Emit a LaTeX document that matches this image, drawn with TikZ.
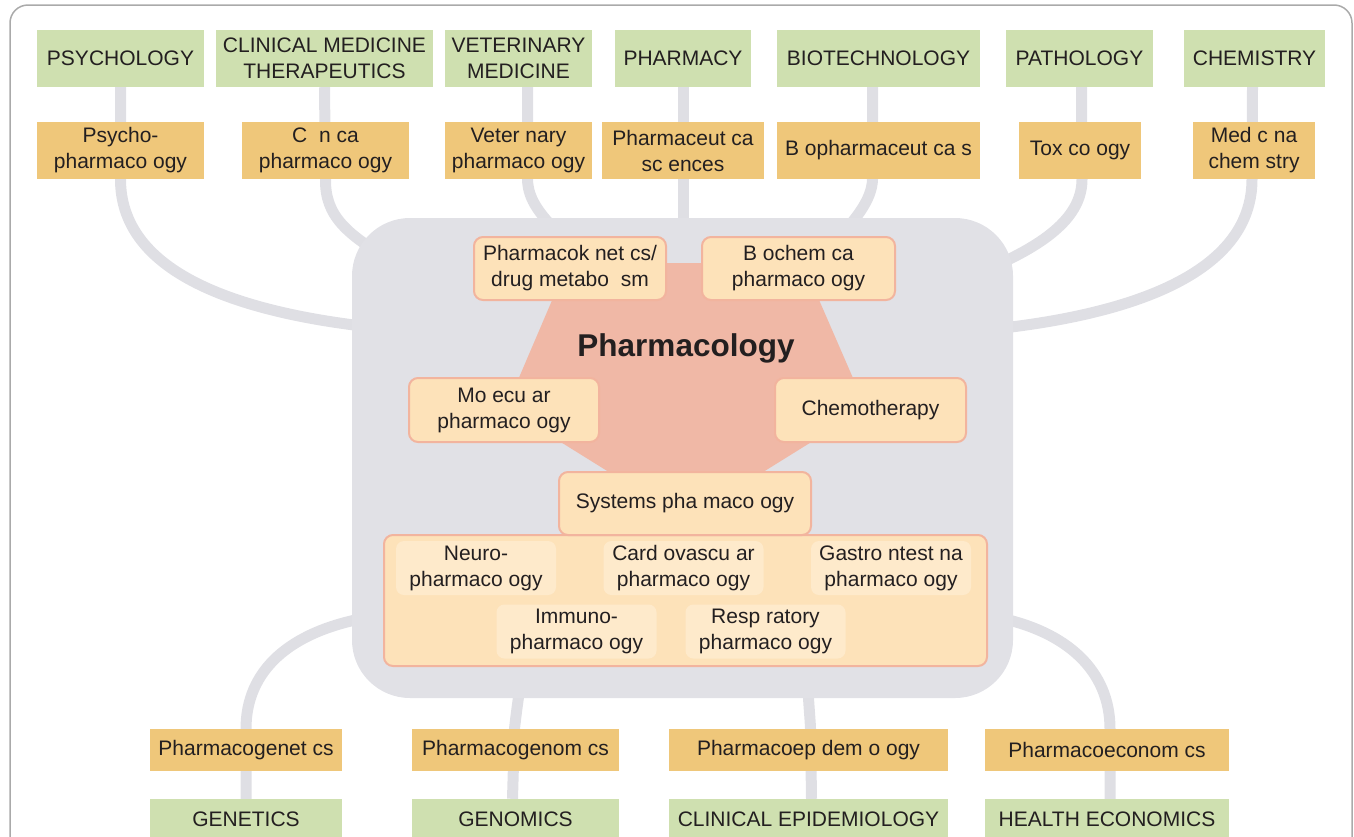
\documentclass[tikz,border=0pt]{standalone}
\usepackage{fontspec}
\setmainfont{Liberation Sans}
\usetikzlibrary{backgrounds,calc}
\definecolor{grn}{HTML}{CFE0B0}
\definecolor{org}{HTML}{EFC77A}
\definecolor{coreg}{HTML}{E1E1E6}
\definecolor{lgray}{HTML}{DFDFE4}
\definecolor{pent}{HTML}{F0B8A6}
\definecolor{pbox}{HTML}{FDE2B9}
\definecolor{pbord}{HTML}{F2B49E}
\definecolor{subf}{HTML}{FEEACB}
\definecolor{txt}{HTML}{231F20}
\definecolor{frm}{HTML}{AAAAAA}
\begin{document}
\begin{tikzpicture}[x=1pt,y=-1pt,
  every node/.style={font=\fontsize{21}{26}\selectfont, text=txt, align=center, inner sep=0pt},
  gbox/.style={fill=grn},
  obox/.style={fill=org},
  ibox/.style={fill=pbox, draw=pbord, line width=2pt, rounded corners=9pt},
  sbox/.style={fill=subf, rounded corners=8pt, minimum width=160pt, minimum height=54pt},
  link/.style={draw=lgray, line width=11pt},
  frame/.style={draw=frm, line width=1.5pt, rounded corners=18pt}]
\useasboundingbox (0,0) rectangle (1354,836);
\clip (0,0) rectangle (1354,836);
\draw[frame] (10,5) rectangle (1352,900);

% central field
\node[fill=coreg, rounded corners=58pt, minimum width=661pt, minimum height=480pt] (core) at (682.5,458) {};
\fill[pent] (568,263) -- (803,263) -- (866,408) -- (686,520) -- (506,408) -- cycle;
\node[font=\fontsize{31.5}{36}\selectfont\bfseries] (pharm) at (686,348) {Pharmacology};

% top row: disciplines
\node[gbox, minimum width=167pt, minimum height=57pt] (psyg) at (120.5,58.5) {PSYCHOLOGY};
\node[gbox, minimum width=217pt, minimum height=57pt] (clig) at (324.5,58.5) {CLINICAL MEDICINE\\THERAPEUTICS};
\node[gbox, minimum width=147pt, minimum height=57pt] (vetg) at (518.5,58.5) {VETERINARY\\MEDICINE};
\node[gbox, minimum width=136pt, minimum height=57pt] (phag) at (683,58.5) {PHARMACY};
\node[gbox, minimum width=203pt, minimum height=57pt] (biog) at (878.5,58.5) {BIOTECHNOLOGY};
\node[gbox, minimum width=147pt, minimum height=57pt] (patg) at (1079.5,58.5) {PATHOLOGY};
\node[gbox, minimum width=141pt, minimum height=57pt] (chmg) at (1254.5,58.5) {CHEMISTRY};

% top row: pharmacology branches
\node[obox, minimum width=167pt, minimum height=57pt] (psyo) at (120.5,150.5) {Psycho-\\pharmaco ogy};
\node[obox, minimum width=167pt, minimum height=57pt] (clio) at (325.5,150.5) {C\ \ n ca\\pharmaco ogy};
\node[obox, minimum width=147pt, minimum height=57pt] (veto) at (518.5,150.5) {Veter nary\\pharmaco ogy};
\node[obox, minimum width=162pt, minimum height=57pt] (phao) at (683,150.5) {Pharmaceut ca\\sc ences};
\node[obox, minimum width=203pt, minimum height=57pt] (bioo) at (878.5,150.5) {B opharmaceut ca s};
\node[obox, minimum width=122pt, minimum height=57pt] (pato) at (1080,150.5) {Tox co ogy};
\node[obox, minimum width=122pt, minimum height=57pt] (chmo) at (1254,150.5) {Med c na\\chem stry};

% inner boxes
\node[ibox, minimum width=192pt, minimum height=63pt] (pk) at (570,268.5) {Pharmacok net cs/\\drug metabo\ \ sm};
\node[ibox, minimum width=193pt, minimum height=63pt] (bc) at (798.5,268.5) {B ochem ca\\pharmaco ogy};
\node[ibox, minimum width=190pt, minimum height=64pt] (mol) at (504,410) {Mo ecu ar\\pharmaco ogy};
\node[ibox, minimum width=191pt, minimum height=64pt] (chemo) at (870.5,410) {Chemotherapy};
\node[ibox, minimum width=603pt, minimum height=131pt] (sysg) at (685.5,600.5) {};
\node[ibox, minimum width=252pt, minimum height=63pt] (sys) at (685,503.5) {Systems pha maco ogy};
\node[sbox] (neu) at (476,568) {Neuro-\\pharmaco ogy};
\node[sbox] (car) at (683.5,568) {Card ovascu ar\\pharmaco ogy};
\node[sbox] (gas) at (891,568) {Gastro ntest na\\pharmaco ogy};
\node[sbox] (imm) at (576.5,631.5) {Immuno-\\pharmaco ogy};
\node[sbox] (res) at (765.5,631.5) {Resp ratory\\pharmaco ogy};

% bottom row
\node[obox, minimum width=192pt, minimum height=42pt] (geno) at (246,750) {Pharmacogenet cs};
\node[obox, minimum width=207pt, minimum height=42pt] (gmo) at (515.5,750) {Pharmacogenom cs};
\node[obox, minimum width=279pt, minimum height=42pt] (epo) at (808.5,750) {Pharmacoep dem o ogy};
\node[obox, minimum width=244pt, minimum height=42pt] (eco) at (1107,750) {Pharmacoeconom cs};
\node[gbox, minimum width=192pt, minimum height=41pt] (geng) at (246,819.5) {GENETICS};
\node[gbox, minimum width=207pt, minimum height=41pt] (gmg) at (515.5,819.5) {GENOMICS};
\node[gbox, minimum width=279pt, minimum height=41pt] (epg) at (808.5,819.5) {CLINICAL EPIDEMIOLOGY};
\node[gbox, minimum width=244pt, minimum height=41pt] (ecg) at (1107,819.5) {HEALTH ECONOMICS};

% end points inside the central field
\coordinate (ePsy) at (362,326);
\coordinate (eCli) at (400,265);
\coordinate (eVet) at (565,240);
\coordinate (ePha) at (683,240);
\coordinate (eBio) at (835,242);
\coordinate (ePat) at (990,268);
\coordinate (eChm) at (1003,328);
\coordinate (eGen) at (365,618);
\coordinate (eGmc) at (521,680);
\coordinate (eEpi) at (808,680);
\coordinate (eEco) at (1000,618);

\begin{scope}[on background layer]
\draw[link] (psyg.south) -- (psyo.south) .. controls (120.5,270) and (230,310) .. (ePsy);
\draw[link] (clig.south) -- (clio.south) .. controls (325,215) and (345,235) .. (eCli);
\draw[link] ([xshift=9pt]vetg.south) -- ([xshift=9pt]veto.south) .. controls (528,200) and (540,215) .. (eVet);
\draw[link] (phag.south) -- (ePha);
\draw[link] ([xshift=-6pt]biog.south) -- ([xshift=-6pt]bioo.south) .. controls (872,200) and (855,220) .. (eBio);
\draw[link] ([xshift=2pt]patg.south) -- ([xshift=2pt]pato.south) .. controls (1082,212) and (1055,240) .. (ePat);
\draw[link] ([xshift=-2pt]chmg.south) -- ([xshift=-2pt]chmo.south) .. controls (1252,270) and (1140,312) .. (eChm);
\draw[link] (geng.north) -- (geno.north) .. controls (246,670) and (290,632) .. (eGen);
\draw[link] ([xshift=-3pt]gmg.north) -- ([xshift=-1pt]gmo.north) .. controls (516,715) and (518,700) .. (eGmc);
\draw[link] ([xshift=3pt]epg.north) -- ([xshift=2pt]epo.north) .. controls (810,715) and (808,700) .. (eEpi);
\draw[link] ([xshift=3pt]ecg.north) -- ([xshift=3pt]eco.north) .. controls (1110,670) and (1066,632) .. (eEco);
\end{scope}
\end{tikzpicture}
\end{document}
